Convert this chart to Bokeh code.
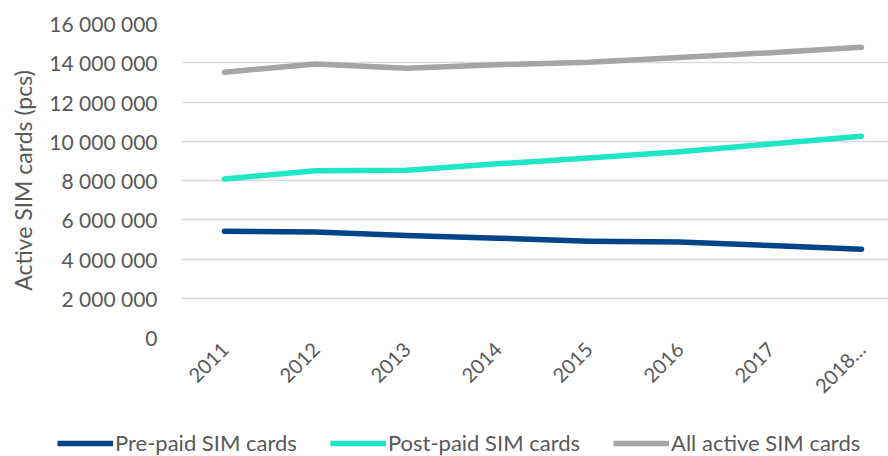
import math
from bokeh.plotting import figure
from bokeh.layouts import column
from bokeh.models import (FixedTicker, CustomJSTickFormatter, Legend, LegendItem,
                          Range1d, ColumnDataSource)
from bokeh.embed import file_html
from bokeh.resources import INLINE

years = ["2011", "2012", "2013", "2014", "2015", "2016", "2017", "2018…"]
prepaid = [5420000, 5370000, 5200000, 5060000, 4910000, 4860000, 4690000, 4500000]
postpaid = [8080000, 8500000, 8520000, 8850000, 9150000, 9470000, 9860000, 10260000]
all_active = [13520000, 13940000, 13720000, 13900000, 14030000, 14270000, 14510000, 14790000]
y_ticks = [0, 2000000, 4000000, 6000000, 8000000, 10000000, 12000000, 14000000, 16000000]

series_names = ["Pre-paid SIM cards", "Post-paid SIM cards", "All active SIM cards"]
colors = ["#00448a", "#1ee6c6", "#a5a5a5"]

FONT = "Lato"
TXT = "#595959"
LW = 5.5

idx = list(range(len(years)))
src = ColumnDataSource(dict(x=idx, pre=prepaid, post=postpaid, all=all_active))

p = figure(width=888, height=426, output_backend="svg", toolbar_location=None,
           x_range=Range1d(-0.4725, 7.297), y_range=Range1d(0, 16000000),
           min_border_left=181, min_border_right=0, min_border_top=23,
           min_border_bottom=89)
p.frame_align = False
p.outline_line_color = None
p.background_fill_color = "white"
p.border_fill_color = "white"

for col, c in zip(["pre", "post", "all"], colors):
    p.line("x", col, source=src, line_color=c, line_width=LW,
           line_cap="round", line_join="round")

# y axis
p.yaxis.ticker = FixedTicker(ticks=y_ticks)
p.yaxis.formatter = CustomJSTickFormatter(
    code="return tick.toLocaleString('en-US').replace(/,/g, ' ');")
p.yaxis.axis_line_color = None
p.yaxis.major_tick_line_color = None
p.yaxis.minor_tick_line_color = None
p.yaxis.major_tick_out = 0
p.yaxis.major_label_standoff = 24
p.yaxis.major_label_text_font = FONT
p.yaxis.major_label_text_font_size = "21px"
p.yaxis.major_label_text_color = TXT
p.yaxis.axis_label = "Active SIM cards (pcs)"
p.yaxis.axis_label_text_font = FONT
p.yaxis.axis_label_text_font_size = "23px"
p.yaxis.axis_label_text_font_style = "normal"
p.yaxis.axis_label_text_color = TXT
p.yaxis.axis_label_standoff = 9

# x axis
p.xaxis.ticker = FixedTicker(ticks=idx)
p.xaxis.major_label_overrides = {i: y for i, y in zip(idx, years)}
p.xaxis.axis_line_color = None
p.xaxis.major_tick_line_color = None
p.xaxis.minor_tick_line_color = None
p.xaxis.major_tick_out = 0
p.xaxis.major_label_orientation = math.pi / 4
p.xaxis.major_label_standoff = 8
p.xaxis.major_label_text_font = FONT
p.xaxis.major_label_text_font_size = "20px"
p.xaxis.major_label_text_color = TXT

p.xgrid.grid_line_color = None
p.ygrid.ticker = FixedTicker(ticks=y_ticks)
p.ygrid.grid_line_color = "#d9d9d9"
p.ygrid.grid_line_width = 1.5

# legend strip below the chart (its lines lie outside its own ranges, so only
# the legend glyphs show)
pl = figure(width=888, height=30, output_backend="svg", toolbar_location=None,
            x_range=Range1d(-3, -2), y_range=Range1d(-3, -2),
            x_axis_type=None, y_axis_type=None,
            min_border_left=0, min_border_right=0, min_border_top=0,
            min_border_bottom=0)
pl.frame_align = False
pl.outline_line_color = None
pl.xgrid.visible = False
pl.ygrid.visible = False
leg_renderers = [pl.line("x", col, source=src, line_color=c, line_width=LW)
                 for col, c in zip(["pre", "post", "all"], colors)]

legend = Legend(
    items=[LegendItem(label=n, renderers=[r]) for n, r in zip(series_names, leg_renderers)],
    orientation="horizontal", location=(57, 0),
    padding=0, margin=0, spacing=33, glyph_width=56, glyph_height=20,
    label_standoff=2, label_height=20,
    label_text_font=FONT, label_text_font_size="22px", label_text_color=TXT,
    border_line_color=None, background_fill_alpha=0)
pl.add_layout(legend, "center")

layout = column(p, pl, spacing=0)
open("out.html", "w").write(file_html(layout, INLINE))
